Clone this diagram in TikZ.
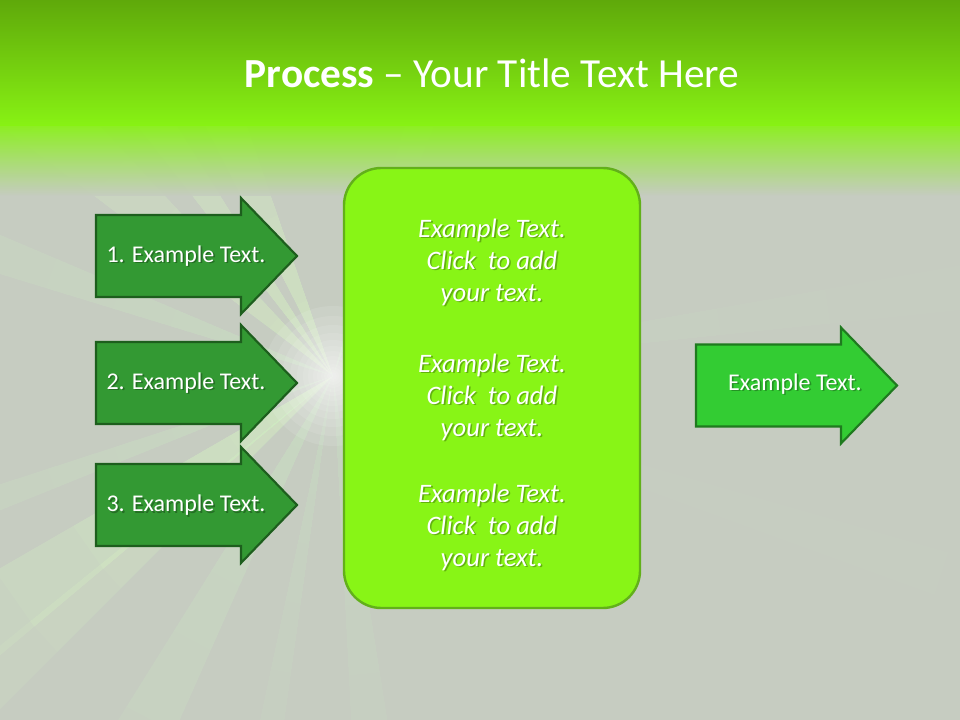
\documentclass[tikz,border=0pt]{standalone}
\usepackage{fontspec}
\setmainfont{Carlito}
\usetikzlibrary{calc}
\definecolor{bggray}{HTML}{C6CCC1}
\definecolor{topdark}{HTML}{5FA90A}
\definecolor{topbright}{HTML}{88F214}
\definecolor{bandlight}{HTML}{B2E690}
\definecolor{raycol}{HTML}{DEFFC8}
\definecolor{boxfill}{HTML}{88F516}
\definecolor{boxborder}{HTML}{62B01A}
\definecolor{arrowfill}{HTML}{339933}
\definecolor{arrowline}{HTML}{1D5E1D}
\definecolor{rarrowfill}{HTML}{33CC33}
\definecolor{rarrowline}{HTML}{1F7A1F}
\tikzset{
  larrow/.style={fill=arrowfill, draw=arrowline, line width=1.6pt, line join=miter},
  rarrow/.style={fill=rarrowfill, draw=rarrowline, line width=1.6pt, line join=miter},
  arrowtxt/.style={text=white, font=\fontsize{18}{22}\selectfont, inner sep=0pt},
  boxtxt/.style={text=white, align=center, font=\itshape\fontsize{20}{24}\selectfont, inner sep=0pt},
  ray/.style={fill=raycol},
  glow/.style={fill=white}
}
\newcommand\shtext[4]{%
  \node[#3, text=black, opacity=0.28] (#1s) at ($(#2)+(1.6,1.6)$) {#4};
  \node[#3] (#1) at (#2) {#4};}
\begin{document}
\begin{tikzpicture}[x=0.75pt,y=-0.75pt]
\useasboundingbox (0,0) rectangle (960,720);
% background
\fill[bggray] (0,0) rectangle (960,720);
% light rays
\begin{scope}[shift={(333,376)}]
  \foreach \a/\w/\s in {247/4/1.2, 235/3/1.2, 222/5/1, 200/3/0.7, 145/5/1.3, 138/3/1, 160/2/0.7, 118/4/0.7, 84/3/0.5, 100/2/0.4, 289/3/0.7, 352/2/0.4, 18/2/0.3} {
    \foreach \r in {640,500,390,300,230,170,120,80} {
      \fill[ray, opacity=0.06*\s] (0,0) -- (\a-\w:\r) -- (\a+\w:\r) -- cycle;
    }
  }
  \foreach \r in {70,60,51,43,36,30,25,20,16,12,9,6,4} {
    \fill[glow, opacity=0.1] (0,0) circle[radius=\r];
  }
\end{scope}
% top band
\shade[top color=topdark, bottom color=topbright] (0,0) rectangle (960,126);
\shade[top color=topbright, middle color=bandlight, bottom color=bggray, opacity=0.9] (0,126) rectangle (960,196);
% title
\node[anchor=base, text=white, font=\fontsize{31}{36}\selectfont, inner sep=0pt] (title) at (492,88) {\textbf{Process} – Your Title Text Here};
% left arrows
\foreach \cy/\n in {256/1, 383/2, 505/3} {
  \draw[larrow] (96,\cy-41) -- (241,\cy-41) -- (241,\cy-58) -- (297,\cy) -- (241,\cy+58) -- (241,\cy+41) -- (96,\cy+41) -- cycle;
}
\shtext{a1}{186,256}{arrowtxt}{1. Example Text.}
\shtext{a2}{186,383}{arrowtxt}{2. Example Text.}
\shtext{a3}{186,505}{arrowtxt}{3. Example Text.}
% central box
\node[fill=boxfill, draw=boxborder, line width=1.8pt, rounded corners=28pt, minimum width=222pt, minimum height=330pt, inner sep=0pt] (box) at (492,388) {};
\shtext{b1}{492,262}{boxtxt}{Example Text.\\Click~ to add\\your text.}
\shtext{b2}{492,397}{boxtxt}{Example Text.\\Click~ to add\\your text.}
\shtext{b3}{492,527}{boxtxt}{Example Text.\\Click~ to add\\your text.}
% right arrow
\draw[rarrow] (696,344.5) -- (841,344.5) -- (841,327.5) -- (897,385.5) -- (841,443.5) -- (841,426.5) -- (696,426.5) -- cycle;
\shtext{r1}{795,384}{arrowtxt}{Example Text.}
\end{tikzpicture}
\end{document}
